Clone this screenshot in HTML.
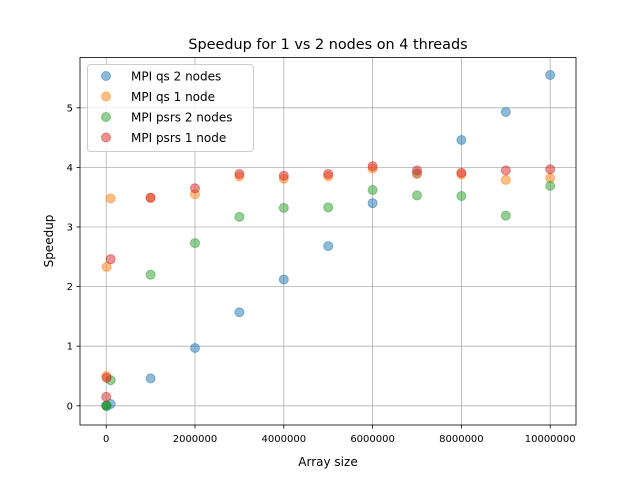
<!DOCTYPE html>
<html><head><meta charset="utf-8"><style>
body{margin:0;background:#fff}
svg text{font-family:"DejaVu Sans","Liberation Sans",sans-serif;fill:#000}
</style></head><body>
<svg id="chart" width="640" height="478" xmlns="http://www.w3.org/2000/svg">
<rect width="640" height="478" fill="#fff"/>
<g id="grid"></g>
<g id="marks"></g>
<rect x="80" y="57.5" width="496" height="367.5" fill="none" stroke="#000" stroke-width="0.8"/>
<g id="ticks"></g>
<text x="328" y="49" text-anchor="middle" font-size="14.4">Speedup for 1 vs 2 nodes on 4 threads</text>
<text x="328" y="466" text-anchor="middle" font-size="12">Array size</text>
<text transform="translate(53,241) rotate(-90)" text-anchor="middle" font-size="12">Speedup</text>
<g id="legend">
<rect x="87.5" y="64.5" width="166" height="87" rx="3" fill="#fff" fill-opacity="0.8" stroke="#ccc"/>
</g>
</svg>
<script>
const xs = [1000, 10000, 100000, 1000000, 2000000, 3000000, 4000000, 5000000, 6000000, 7000000, 8000000, 9000000, 10000000];
const qs2 = [0.0, 0.0, 0.03, 0.46, 0.97, 1.57, 2.12, 2.68, 3.40, 3.9, 4.46, 4.93, 5.55];
const qs1 = [0.5, 2.33, 3.48, 3.49, 3.55, 3.85, 3.81, 3.85, 3.98, 3.89, 3.88, 3.79, 3.82];
const psrs2 = [0.0, 0.0, 0.43, 2.2, 2.73, 3.17, 3.32, 3.33, 3.62, 3.53, 3.52, 3.19, 3.69];
const psrs1 = [0.15, 0.47, 2.46, 3.49, 3.65, 3.89, 3.86, 3.89, 4.02, 3.95, 3.91, 3.95, 3.97];
const seriesNames = ["MPI qs 2 nodes", "MPI qs 1 node", "MPI psrs 2 nodes", "MPI psrs 1 node"];
const xTicks = [0, 2000000, 4000000, 6000000, 8000000, 10000000];
const yTicks = [0, 1, 2, 3, 4, 5];
const colors = ["#1f77b4", "#ff7f0e", "#2ca02c", "#d62728"];
const NS = "http://www.w3.org/2000/svg";
const X = v => 106.2 + v / 1e6 * 44.4;
const Y = v => 405.8 - v * 59.6;
function mk(tag, attrs, parent) {
  const e = document.createElementNS(NS, tag);
  for (const k in attrs) e.setAttribute(k, attrs[k]);
  parent.appendChild(e); return e;
}
const grid = document.getElementById('grid'), ticks = document.getElementById('ticks');
xTicks.forEach(t => {
  const l = mk('line', {x1: X(t), x2: X(t), y1: 57.5, y2: 425, stroke: '#b0b0b0', 'stroke-width': 0.8}, grid);
  
  
  mk('line', {x1: X(t), x2: X(t), y1: 425, y2: 428.5, stroke: '#000', 'stroke-width': 0.8}, ticks);
  const tx = mk('text', {x: X(t), y: 442, 'text-anchor': 'middle', 'font-size': 10}, ticks);
  tx.textContent = String(t);
  
  
});
yTicks.forEach(t => {
  const l = mk('line', {x1: 80, x2: 576, y1: Y(t), y2: Y(t), stroke: '#b0b0b0', 'stroke-width': 0.8}, grid);
  
  
  mk('line', {x1: 76.5, x2: 80, y1: Y(t), y2: Y(t), stroke: '#000', 'stroke-width': 0.8}, ticks);
  const tx = mk('text', {x: 73, y: Y(t) + 3.5, 'text-anchor': 'end', 'font-size': 10}, ticks);
  tx.textContent = String(t);
  
  
});
const marks = document.getElementById('marks');
[qs2, qs1, psrs2, psrs1].forEach((s, i) => {
  s.forEach((v, j) => {
    const c = mk('circle', {cx: X(xs[j]), cy: Y(v), r: 4.5, fill: colors[i], 'fill-opacity': 0.5, stroke: colors[i], 'stroke-opacity': 0.5, 'stroke-width': 1}, marks);
    
    
  });
});
const lg = document.getElementById('legend');
seriesNames.forEach((n, i) => {
  const y = 76 + i * 20.5;
  const c = mk('circle', {cx: 106, cy: y, r: 4.5, fill: colors[i], 'fill-opacity': 0.5, stroke: colors[i], 'stroke-opacity': 0.5}, lg);
  
  
  const t = mk('text', {x: 131, y: y + 4.5, 'font-size': 12}, lg);
  t.textContent = n;
  
  
});
</script>
</body></html>
